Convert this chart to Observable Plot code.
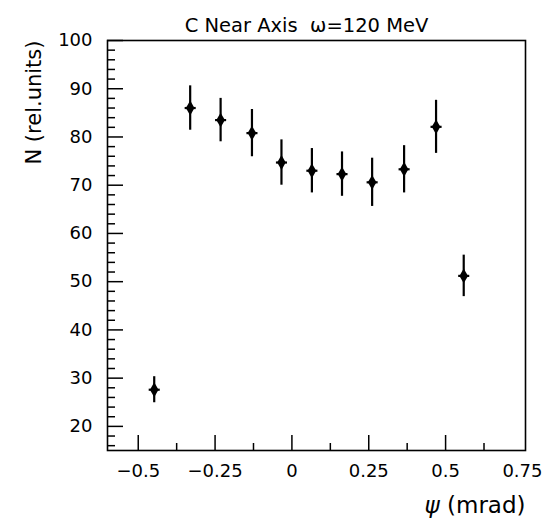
<!DOCTYPE html>
<html><head><meta charset="utf-8">
<script src="https://cdn.jsdelivr.net/npm/d3@7"></script>
<script src="https://cdn.jsdelivr.net/npm/@observablehq/plot@0.6"></script>
<style>body{margin:0;background:#fff;}</style>
</head><body><div id="chart"></div>
<script>
// Data
const psi   = [-0.448, -0.331, -0.232, -0.130, -0.034, 0.065, 0.163, 0.261, 0.365, 0.469, 0.559];
const N     = [27.6, 86.0, 83.5, 80.8, 74.7, 73.0, 72.3, 70.6, 73.3, 82.1, 51.2];
const errN  = [2.7, 4.6, 4.5, 4.9, 4.7, 4.6, 4.6, 5.0, 4.9, 5.5, 4.3];
const errPsi = [0.018, 0.018, 0.018, 0.018, 0.018, 0.018, 0.018, 0.018, 0.018, 0.018, 0.018];

const xMajor = [-0.5, -0.25, 0, 0.25, 0.5, 0.75];
const xMajorLabels = ["\u22120.5", "\u22120.25", "0", "0.25", "0.5", "0.75"];
const xMinor = [-0.375, -0.125, 0.125, 0.375, 0.625];
const yMajor = [20, 30, 40, 50, 60, 70, 80, 90, 100];
const yMinor = d3.range(16, 100, 2).filter(v => v % 10 !== 0);

const titleText = "C Near Axis\u00a0\u00a0ω=120 MeV";
const yLabel = "N (rel.units)";
const xLabel = "ψ (mrad)";

const data = psi.map((x, i) => ({x, y: N[i], e: errN[i], ex: errPsi[i]}));

const W = 551, H = 523, ML = 107, MR = 26, MT = 40, MB = 73;
const iw = W - ML - MR, ih = H - MT - MB;

const chart = Plot.plot({
  width: W, height: H,
  marginLeft: ML, marginRight: MR, marginTop: MT, marginBottom: MB,
  style: {fontFamily: "DejaVu Sans, sans-serif", background: "white", color: "black"},
  x: {domain: [-0.6, 0.76]},
  y: {domain: [15, 100]},
  marks: [
    Plot.frame({stroke: "black", strokeWidth: 1.6}),
    Plot.ruleX(xMajor.filter(v => v < 0.75), {x: d => d, insetTop: ih - 15, strokeWidth: 1.5}),
    Plot.ruleX(xMinor, {x: d => d, insetTop: ih - 7, strokeWidth: 1.5}),
    Plot.ruleY(yMajor, {y: d => d, insetRight: iw - 16, strokeWidth: 1.5}),
    Plot.ruleY(yMinor, {y: d => d, insetRight: iw - 8, strokeWidth: 1.5}),
    Plot.axisX(xMajor, {tickSize: 0, tickPadding: 14, fontSize: 18, label: null,
      tickFormat: d => xMajorLabels[xMajor.indexOf(d)]}),
    Plot.axisY(yMajor, {tickSize: 0, tickPadding: 15, fontSize: 18, label: null}),
    Plot.ruleX(data, {x: "x", y1: d => d.y - d.e, y2: d => d.y + d.e, strokeWidth: 2.2}),
    Plot.link(data, {x1: d => d.x - d.ex, x2: d => d.x + d.ex, y1: "y", y2: "y", strokeWidth: 2.2}),
    Plot.dot(data, {x: "x", y: "y", symbol: "diamond", r: 4.5, fill: "black", stroke: "none"}),
    Plot.text([titleText], {frameAnchor: "top", lineAnchor: "middle", dx: -10, dy: -15, fontSize: 19.5}),
    Plot.text([yLabel], {frameAnchor: "top-left", lineAnchor: "middle", rotate: -90, textAnchor: "end", dx: -73, fontSize: 21}),
    Plot.text([xLabel], {frameAnchor: "bottom-right", lineAnchor: "middle", textAnchor: "end", dy: 55, fontSize: 23})
  ]
});
document.getElementById("chart").appendChild(chart);
// italic psi
d3.select(chart).selectAll("text").each(function() {
  if (this.textContent === xLabel) {
    this.textContent = "";
    d3.select(this).append("tspan").attr("font-style", "italic").text("ψ");
    d3.select(this).append("tspan").text(" (mrad)");
  }
});
</script>
</body></html>
